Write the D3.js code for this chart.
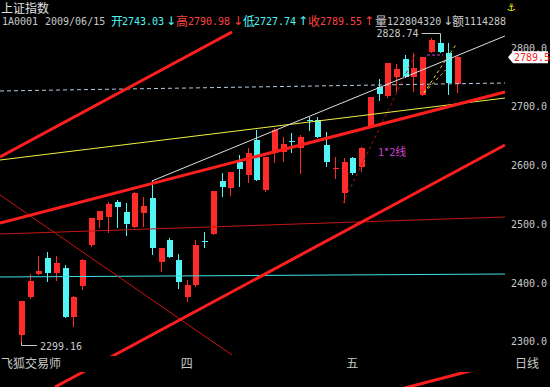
<!DOCTYPE html>
<html>
<head>
<meta charset="utf-8">
<script src="https://cdn.jsdelivr.net/npm/d3@7"></script>
<style>
  body { margin: 0; background: #000; }
  svg { display: block; }
</style>
</head>
<body>
<div id="chart"></div>
<script>
// daily candles, oldest first
const opens  = [2316.2,2380.9,2420.0,2447.0,2422.0,2430.0,2346.8,2399.7,2469.5,2512.0,
                2517.2,2542.7,2525.7,2500.2,2524.0,2549.6,2440.5,2478.0,2444.0,2380.9,
                2401.4,2476.0,2488.2,2578.5,2566.6,2610.9,2588.8,2648.4,2563.2,2626.2,
                2628.0,2647.0,2634.8,2682.0,2682.5,2639.7,2600.0,2558.1,2617.7,2602.4,
                2670.5,2738.7,2723.3,2755.7,2786.4,2755.7,2725.0,2798.3,2813.6,2796.6,2743.03];
const highs  = [2374.1,2420.1,2450.8,2457.6,2450.8,2435.4,2382.0,2445.0,2516.0,2528.0,
                2542.7,2546.2,2541.0,2559.0,2551.3,2578.5,2465.0,2481.4,2454.0,2409.9,
                2478.0,2491.6,2562.0,2592.2,2594.0,2622.8,2634.8,2665.4,2620.0,2668.8,
                2653.5,2660.3,2657.0,2687.6,2687.6,2662.0,2619.4,2617.7,2619.4,2636.0,
                2722.0,2752.3,2780.0,2777.9,2793.2,2796.6,2790.0,2822.2,2828.74,2813.6,2790.98];
const lows   = [2299.16,2377.5,2419.0,2406.5,2408.0,2345.0,2329.8,2392.8,2466.0,2498.5,
                2490.0,2498.5,2484.8,2499.0,2500.2,2452.5,2423.5,2447.0,2394.5,2372.0,
                2398.0,2464.4,2487.0,2551.3,2553.0,2568.3,2575.1,2579.0,2559.8,2609.2,
                2611.0,2626.0,2590.5,2663.7,2652.0,2602.4,2582.0,2541.0,2588.8,2593.9,
                2669.0,2714.8,2719.9,2730.2,2754.0,2730.2,2724.0,2797.0,2796.0,2725.0,2727.74];
const closes = [2374.1,2408.2,2425.0,2422.0,2438.8,2346.8,2380.9,2444.0,2515.5,2527.4,
                2539.3,2534.2,2505.3,2558.1,2536.0,2464.4,2464.4,2449.0,2406.5,2401.4,
                2469.5,2474.0,2561.5,2568.3,2593.9,2599.0,2626.2,2580.2,2619.4,2665.4,
                2641.6,2645.0,2653.5,2680.5,2653.5,2610.9,2601.5,2610.9,2592.2,2634.8,
                2721.6,2726.8,2779.6,2769.3,2755.7,2771.0,2789.8,2818.7,2798.3,2745.5,2789.55];

const yTicks = [2300, 2400, 2500, 2600, 2700, 2800];
const monthIdx = [19, 38];
const monthNames = ["四", "五"];

// hand drawn lines as [candle index, price] end points
const upperThick  = [[-2.41, 2619.4], [24.2, 2832.4]];
const middleThick = [[-2.41, 2507.0], [55.5, 2730.2]];
const lowerThick  = [[3.9, 2227.6], [55.5, 2639.9]];
const bottomThick = [[43.0, 2222.0], [55.5, 2270.5]];
const thinDiag    = [[-2.41, 2554.7], [24.2, 2282.1]];
const thinFlat    = [[-2.41, 2488.2], [55.5, 2517.2]];
const cyanFlat    = [[-2.41, 2415.0], [55.5, 2420.1]];
const yellowLine  = [[-2.41, 2614.3], [55.5, 2719.9]];
const whiteLine   = [[15, 2578.5], [55.5, 2825.6]];
const dashFlat    = [[-2.41, 2731.9], [55.5, 2745.5]];
const gannLine    = [[36.93, 2541.1], [45.18, 2793.2]];
const fanA        = [[46.2, 2728.4], [50.0, 2813.6]];
const fanB        = [[46.2, 2728.4], [48.7, 2767.6]];
const boxTop      = [[46.56, 2793.2], [48.39, 2793.2]];

if (document.readyState === "loading") {
  document.addEventListener("DOMContentLoaded", drawChart);
} else {
  drawChart();
}

function drawChart() {
  const W = 550, H = 387;
  const mono = "'DejaVu Sans Mono', monospace";
  const cjk = "'Noto Sans CJK SC', sans-serif";
  const red = "#ff2a2a", cyan = "#52f5f5", grey = "#c8c8c8";

  const svg = d3.select("#chart").append("svg")
    .attr("width", W).attr("height", H)
    .style("background", "#000");

  const x = d3.scaleLinear().domain([0, 50]).range([21, 457]);
  const y = d3.scaleLinear().domain([2300, 2800]).range([344.5, 51]);

  svg.append("clipPath").attr("id", "plot")
    .append("rect").attr("x", 0).attr("y", 31).attr("width", 506).attr("height", H - 31);

  const plot = svg.append("g").attr("clip-path", "url(#plot)");
  const line = d3.line().x(d => x(d[0])).y(d => y(d[1]));

  function drawLine(pts, color, width, dash) {
    plot.append("path")
      .attr("d", line(pts))
      .attr("fill", "none")
      .attr("stroke", color)
      .attr("stroke-width", width)
      .attr("stroke-dasharray", dash || null);
  }

  // candles
  const idx = d3.range(opens.length);
  const cg = plot.append("g").attr("shape-rendering", "crispEdges");
  cg.selectAll("line.wick").data(idx).enter().append("line")
    .attr("x1", i => Math.round(x(i)) + 0.5).attr("x2", i => Math.round(x(i)) + 0.5)
    .attr("y1", i => y(highs[i])).attr("y2", i => y(lows[i]))
    .attr("stroke", i => closes[i] >= opens[i] ? red : cyan);
  cg.selectAll("rect.body").data(idx).enter().append("rect")
    .attr("x", i => Math.round(x(i)) - 2.5)
    .attr("y", i => y(Math.max(opens[i], closes[i])))
    .attr("width", 6)
    .attr("height", i => Math.max(1, Math.abs(y(opens[i]) - y(closes[i]))))
    .attr("fill", i => closes[i] >= opens[i] ? red : cyan);

  // drawn lines
  drawLine(thinFlat, "#c81414", 1);
  drawLine(cyanFlat, "#3ee0e6", 1);
  drawLine(thinDiag, "#c81414", 1);
  drawLine(yellowLine, "#f0f040", 1);
  drawLine(whiteLine, "#e0e0e0", 1);
  drawLine(dashFlat, "#b8cce0", 1, "4,3");
  drawLine(gannLine, "#a01818", 1, "3,3");
  drawLine(fanA, "#e8d040", 1, "3,3");
  drawLine(fanB, "#e8d040", 1, "3,3");
  drawLine(boxTop, "#d040d0", 1, "3,2");
  drawLine(upperThick, "#ff1e1e", 3);
  drawLine(middleThick, "#ff1e1e", 3);
  drawLine(lowerThick, "#ff1e1e", 3);
  drawLine(bottomThick, "#ff1e1e", 3);

  // label band at the bottom hides the lines
  svg.append("rect").attr("x", 0).attr("y", 356).attr("width", W).attr("height", 16).attr("fill", "#000");

  // extreme markers
  const hi = 48, lo = 0;
  const yh = Math.round(y(highs[hi])) - 0.5;
  svg.append("path")
    .attr("d", `M${x(hi) - 18},${yh}H${Math.round(x(hi)) + 0.5}V${yh + 3}`)
    .attr("fill", "none").attr("stroke", grey).attr("stroke-width", 1);
  svg.append("text").attr("x", x(hi) - 21).attr("y", yh + 3.5)
    .attr("text-anchor", "end").attr("fill", grey)
    .style("font", "10px " + mono).text(d3.format(".2f")(highs[hi]));

  const yl = Math.round(y(lows[lo])) + 0.5;
  svg.append("path")
    .attr("d", `M${Math.round(x(lo)) + 0.5},${yl - 3}V${yl}H${x(lo) + 16}`)
    .attr("fill", "none").attr("stroke", grey).attr("stroke-width", 1);
  svg.append("text").attr("x", x(lo) + 19).attr("y", yl + 4)
    .attr("fill", grey).style("font", "10px " + mono).text(d3.format(".2f")(lows[lo]));

  svg.append("text").attr("x", 378).attr("y", 156).attr("fill", "#d040d0")
    .style("font", "11px " + cjk).text("1*2线");

  // right price axis
  svg.append("g")
    .attr("transform", "translate(508,-3)")
    .call(d3.axisRight(y).tickValues(yTicks).tickSize(0).tickPadding(3).tickFormat(d3.format(".1f")))
    .call(g => g.select(".domain").remove())
    .selectAll("text")
      .attr("fill", grey)
      .style("font", "10px " + mono);

  // last close tag
  const yc = y(closes[closes.length - 1]);
  svg.append("path")
    .attr("d", `M508,${yc}L513,${yc - 6}H548V${yc + 6}H513Z`)
    .attr("fill", "#fff");
  svg.append("text").attr("x", 514).attr("y", yc + 4)
    .attr("fill", "#ff2020").style("font", "10px " + mono)
    .text(d3.format(".1f")(Math.floor(closes[closes.length - 1] * 10) / 10));

  // bottom labels
  svg.selectAll("text.month").data(monthIdx).enter().append("text")
    .attr("x", i => x(i)).attr("y", 368)
    .attr("text-anchor", "middle").attr("fill", grey)
    .style("font", "12px " + cjk)
    .text((d, k) => monthNames[k]);
  svg.append("text").attr("x", 1).attr("y", 368).attr("fill", grey)
    .style("font", "12px " + cjk).text("飞狐交易师");
  svg.append("text").attr("x", 515).attr("y", 368).attr("fill", grey)
    .style("font", "12px " + cjk).text("日线");

  // header
  svg.append("text").attr("x", 1).attr("y", 13).attr("fill", "#e0e0e0")
    .style("font", "12px " + cjk).text("上证指数");

  svg.append("clipPath").attr("id", "head")
    .append("rect").attr("x", 0).attr("y", 14).attr("width", 506).attr("height", 16);
  const head = svg.append("g").attr("clip-path", "url(#head)");
  const parts = [
    { t: "1A0001", x: 2, c: grey },
    { t: "2009/06/15", x: 45, c: grey },
    { t: "开", x: 111, c: cyan, z: 1 },
    { t: "2743.03", x: 122, c: cyan },
    { t: "↓", x: 166, c: cyan, a: 1 },
    { t: "高", x: 176, c: "#ff4040", z: 1 },
    { t: "2790.98", x: 188, c: "#ff4040" },
    { t: "↓", x: 233, c: "#ff4040", a: 1 },
    { t: "低", x: 243, c: cyan, z: 1 },
    { t: "2727.74", x: 254, c: cyan },
    { t: "↑", x: 298, c: cyan, a: 1 },
    { t: "收", x: 308, c: "#ff4040", z: 1 },
    { t: "2789.55", x: 320, c: "#ff4040" },
    { t: "↑", x: 364, c: "#ff4040", a: 1 },
    { t: "量", x: 375, c: grey, z: 1 },
    { t: "122804320", x: 387, c: grey },
    { t: "↓", x: 443, c: grey, a: 1 },
    { t: "额", x: 452, c: grey, z: 1 },
    { t: "1114288", x: 464, c: grey }
  ];
  head.selectAll("text").data(parts).enter().append("text")
    .attr("x", d => d.x).attr("y", d => d.z ? 26 : 25)
    .attr("fill", d => d.c)
    .style("font", d => d.z ? "12px " + cjk : (d.a ? "12px 'DejaVu Sans'" : "10px " + mono))
    .text(d => d.t);

  svg.append("text").attr("x", 511).attr("y", 11).attr("text-anchor", "middle")
    .attr("fill", "#ffff00").style("font", "bold 10px 'DejaVu Sans'").text("⚓");
}
</script>
</body>
</html>
